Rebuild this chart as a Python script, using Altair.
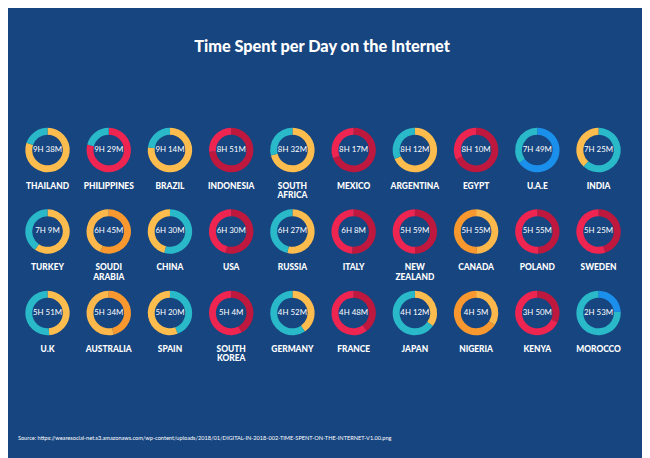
import math
import altair as alt
import pandas as pd

title_text = ["Time Spent per Day on the Internet"]
source_text = ["Source: https://wearesocial-net.s3.amazonaws.com/wp-content/uploads/2018/01/DIGITAL-IN-2018-002-TIME-SPENT-ON-THE-INTERNET-V1.00.png"]

countries = ["THAILAND", "PHILIPPINES", "BRAZIL", "INDONESIA", "SOUTH\nAFRICA",
             "MEXICO", "ARGENTINA", "EGYPT", "U.A.E", "INDIA",
             "TURKEY", "SOUDI\nARABIA", "CHINA", "USA", "RUSSIA",
             "ITALY", "NEW\nZEALAND", "CANADA", "POLAND", "SWEDEN",
             "U.K", "AUSTRALIA", "SPAIN", "SOUTH\nKOREA", "GERMANY",
             "FRANCE", "JAPAN", "NIGERIA", "KENYA", "MOROCCO"]

times = ["9H 38M", "9H 29M", "9H 14M", "8H 51M", "8H 32M",
         "8H 17M", "8H 12M", "8H 10M", "7H 49M", "7H 25M",
         "7H 9M", "6H 45M", "6H 30M", "6H 30M", "6H 27M",
         "6H 8M", "5H 59M", "5H 55M", "5H 55M", "5H 25M",
         "5H 51M", "5H 34M", "5H 20M", "5H 4M", "4H 52M",
         "4H 48M", "4H 12M", "4H 5M", "3H 50M", "2H 53M"]

# tone of the share of a 12-hour day spent online, and of the remainder
tone_online = ["yellow", "red", "yellow", "crimson", "yellow",
               "crimson", "yellow", "crimson", "blue", "teal",
               "yellow", "orange", "teal", "crimson", "yellow",
               "crimson", "crimson", "lightorange", "crimson", "crimson",
               "yellow", "orange", "teal", "crimson", "yellow",
               "crimson", "yellow", "lightorange", "crimson", "blue"]
tone_rest = ["teal", "teal", "teal", "red", "teal",
             "red", "teal", "red", "teal", "yellow",
             "teal", "lightorange", "yellow", "red", "teal",
             "red", "red", "orange", "red", "red",
             "teal", "lightorange", "yellow", "red", "teal",
             "red", "teal", "orange", "red", "teal"]

tone_names = ["yellow", "lightorange", "orange", "teal", "red", "crimson", "blue"]
tone_colors = ["#FDBD4E", "#FDB84B", "#F8982E", "#29B9C9", "#EE2451", "#BF183E", "#1A90EC"]

BG = "#17457F"
N_COLS = 10

def to_minutes(s):
    h, m = s.replace("H", "").replace("M", "").split()
    return int(h) * 60 + int(m)

arc_rows, label_rows = [], []
for i, (c, t) in enumerate(zip(countries, times)):
    col, row = i % N_COLS, i // N_COLS
    frac = to_minutes(t) / 720.0
    cut = frac * 2 * math.pi
    arc_rows.append(dict(col=col, row=row, t0=0.0, t1=cut, tone=tone_online[i]))
    arc_rows.append(dict(col=col, row=row, t0=cut, t1=2 * math.pi, tone=tone_rest[i]))
    label_rows.append(dict(col=col, row=row, country=c, time=t))

arcs_df = pd.DataFrame(arc_rows)
labels_df = pd.DataFrame(label_rows)

xs = alt.X("col:Q", scale=alt.Scale(domain=[0, 9], range=[40, 598]), axis=None)
ys = alt.Y("row:Q", scale=alt.Scale(domain=[0, 2], range=[141, 306]), axis=None)

arcs = alt.Chart(arcs_df).mark_arc(innerRadius=15.5, outerRadius=22.5, strokeWidth=0).encode(
    x=xs, y=ys,
    theta=alt.Theta("t0:Q", scale=None),
    theta2="t1:Q",
    color=alt.Color("tone:N", scale=alt.Scale(domain=tone_names, range=tone_colors), legend=None),
)

time_text = alt.Chart(labels_df).mark_text(
    color="white", font="Lato", fontSize=8, align="center", baseline="middle"
).encode(x=xs, y=ys, text="time:N")

name_text = alt.Chart(labels_df).mark_text(
    color="white", font="Lato", fontWeight=900, fontSize=8.5, align="center",
    baseline="top", dy=32, lineBreak="\n", lineHeight=10
).encode(x=xs, y=ys, text="country:N")

title = alt.Chart(pd.DataFrame({"t": title_text})).mark_text(
    color="white", font="Lato", fontWeight=900, fontSize=16.5, align="center", baseline="middle"
).encode(text="t:N", x=alt.value(318), y=alt.value(37))

source = alt.Chart(pd.DataFrame({"t": source_text})).mark_text(
    color="white", font="Lato", fontSize=5.7, align="left", baseline="middle"
).encode(text="t:N", x=alt.value(10), y=alt.value(433))

chart = alt.layer(arcs, time_text, name_text, title, source).properties(
    width=642, height=450, autosize=alt.AutoSizeParams(type="none"), padding=0,
    background=BG,
).configure_view(stroke=None)

chart.save("out.html", embed_options={"renderer": "svg", "actions": False})
